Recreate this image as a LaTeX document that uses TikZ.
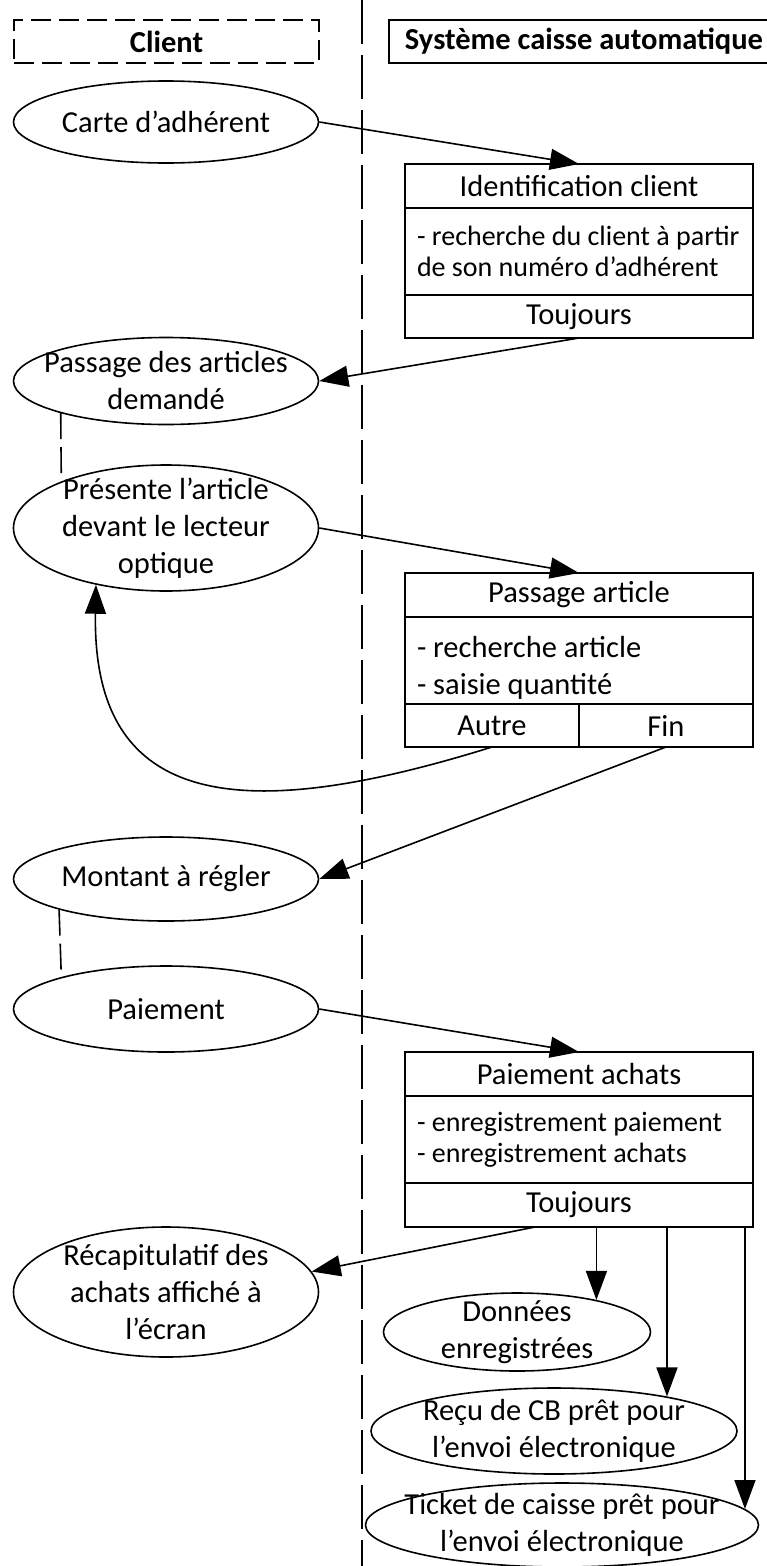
\documentclass[tikz,border=0pt]{standalone}
\usepackage{fontspec}
\setmainfont{Carlito}
\usetikzlibrary{shapes.geometric,arrows.meta,positioning}
\begin{document}
\begin{tikzpicture}[x=1pt,y=-1pt,line width=1.6pt,font=\fontsize{30.5}{37}\selectfont,
  etat/.style={ellipse,draw,inner sep=0pt,minimum width=305pt},
  txt/.style={align=center,inner sep=0pt},
  titre/.style={draw,outer sep=0pt,inner sep=0pt,minimum width=348pt,minimum height=44pt},
  corps/.style={draw,outer sep=0pt,inner xsep=12pt,inner ysep=0pt,text width=324pt,minimum height=87pt,align=flush left},
  petit/.style={font=\fontsize{28}{31}\selectfont},
  fleche/.style={-{Triangle[length=29pt,width=21pt]}},
  lien/.style={dash pattern=on 26pt off 8pt},
  couloir/.style={dash pattern=on 44pt off 11pt}]
\useasboundingbox (0,0) rectangle (767,1566);
% couloirs
\node[draw,dash pattern=on 20pt off 8pt,minimum width=305pt,minimum height=43pt,font=\fontsize{30.5}{37}\selectfont\bfseries] (client) at (166.5,41.5) {Client};
\node[draw,minimum width=390pt,minimum height=43pt,font=\fontsize{30.5}{37}\selectfont\bfseries] (systeme) at (584,41.5) {Système caisse automatique};
\draw[couloir] (362,0) -- (362,1566);
% client
\node[etat,minimum height=82pt,label={[txt]center:Carte d’adhérent}] (carte) at (166,122) {};
\node[etat,minimum height=87pt,label={[txt]center:{Passage des articles\\demandé}}] (passage) at (166,381) {};
\node[etat,minimum height=126pt,label={[txt]center:{Présente l’article\\devant le lecteur\\optique}}] (presente) at (166,528) {};
\node[etat,minimum height=84pt,label={[txt]center:Montant à régler}] (montant) at (166,879) {};
\node[etat,minimum height=86pt,label={[txt]center:Paiement}] (paiement) at (166,1009) {};
\node[etat,minimum height=130pt,label={[txt]center:{Récapitulatif des\\achats affiché à\\l’écran}}] (recap) at (166,1292) {};
% systeme
\node[titre] (idt) at (579,186) {Identification client};
\node[corps,petit,below=0pt of idt] (idb) {- recherche du client à partir\\de son numéro d’adhérent};
\node[titre,minimum height=43pt,below=0pt of idb] (idf) {Toujours};
\node[titre] (pat) at (579,595) {Passage article};
\node[corps,below=0pt of pat] (pab) {\rule{0pt}{36pt}- recherche article\\- saisie quantité};
\node[titre,minimum width=174pt,minimum height=43pt,anchor=north west] (pautre) at (pab.south west) {Autre};
\node[titre,minimum width=174pt,minimum height=43pt,right=0pt of pautre] (pfin) {Fin};
\node[titre] (pct) at (579,1074) {Paiement achats};
\node[corps,petit,below=0pt of pct] (pcb) {- enregistrement paiement\\- enregistrement achats};
\node[titre,below=0pt of pcb] (pcf) {Toujours};
\node[etat,minimum width=267pt,minimum height=78pt,label={[txt]center:{Données\\enregistrées}}] (donnees) at (517,1332) {};
\node[etat,minimum width=366pt,minimum height=86pt,label={[txt]center:{Reçu de CB prêt pour\\l’envoi électronique}}] (recu) at (554,1431) {};
\node[etat,minimum width=393pt,minimum height=84pt,label={[txt]center:{Ticket de caisse prêt pour\\l’envoi électronique}}] (ticket) at (562,1525) {};
% liens
\draw[fleche] (carte.east) -- (idt.north);
\draw[fleche] (idf.south) -- (passage.east);
\draw[lien] (passage.197) -- (presente.156);
\draw[fleche] (presente.east) -- (pat.north);
\draw[fleche] (pautre.south) .. controls (242,825) and (92,810) .. (presente.-141);
\draw[fleche] (pfin.south) -- (montant.east);
\draw[lien] (montant.196) -- (paiement.163);
\draw[fleche] (paiement.east) -- (pct.north);
\draw[fleche] ([xshift=-44pt]pcf.south) -- (recap.8);
\draw[fleche] (donnees.22 |- pcf.south) -- (donnees.22);
\draw[fleche] (recu.17 |- pcf.south) -- (recu.17);
\draw[fleche] (ticket.5 |- pcf.south) -- (ticket.5);
\end{tikzpicture}
\end{document}
